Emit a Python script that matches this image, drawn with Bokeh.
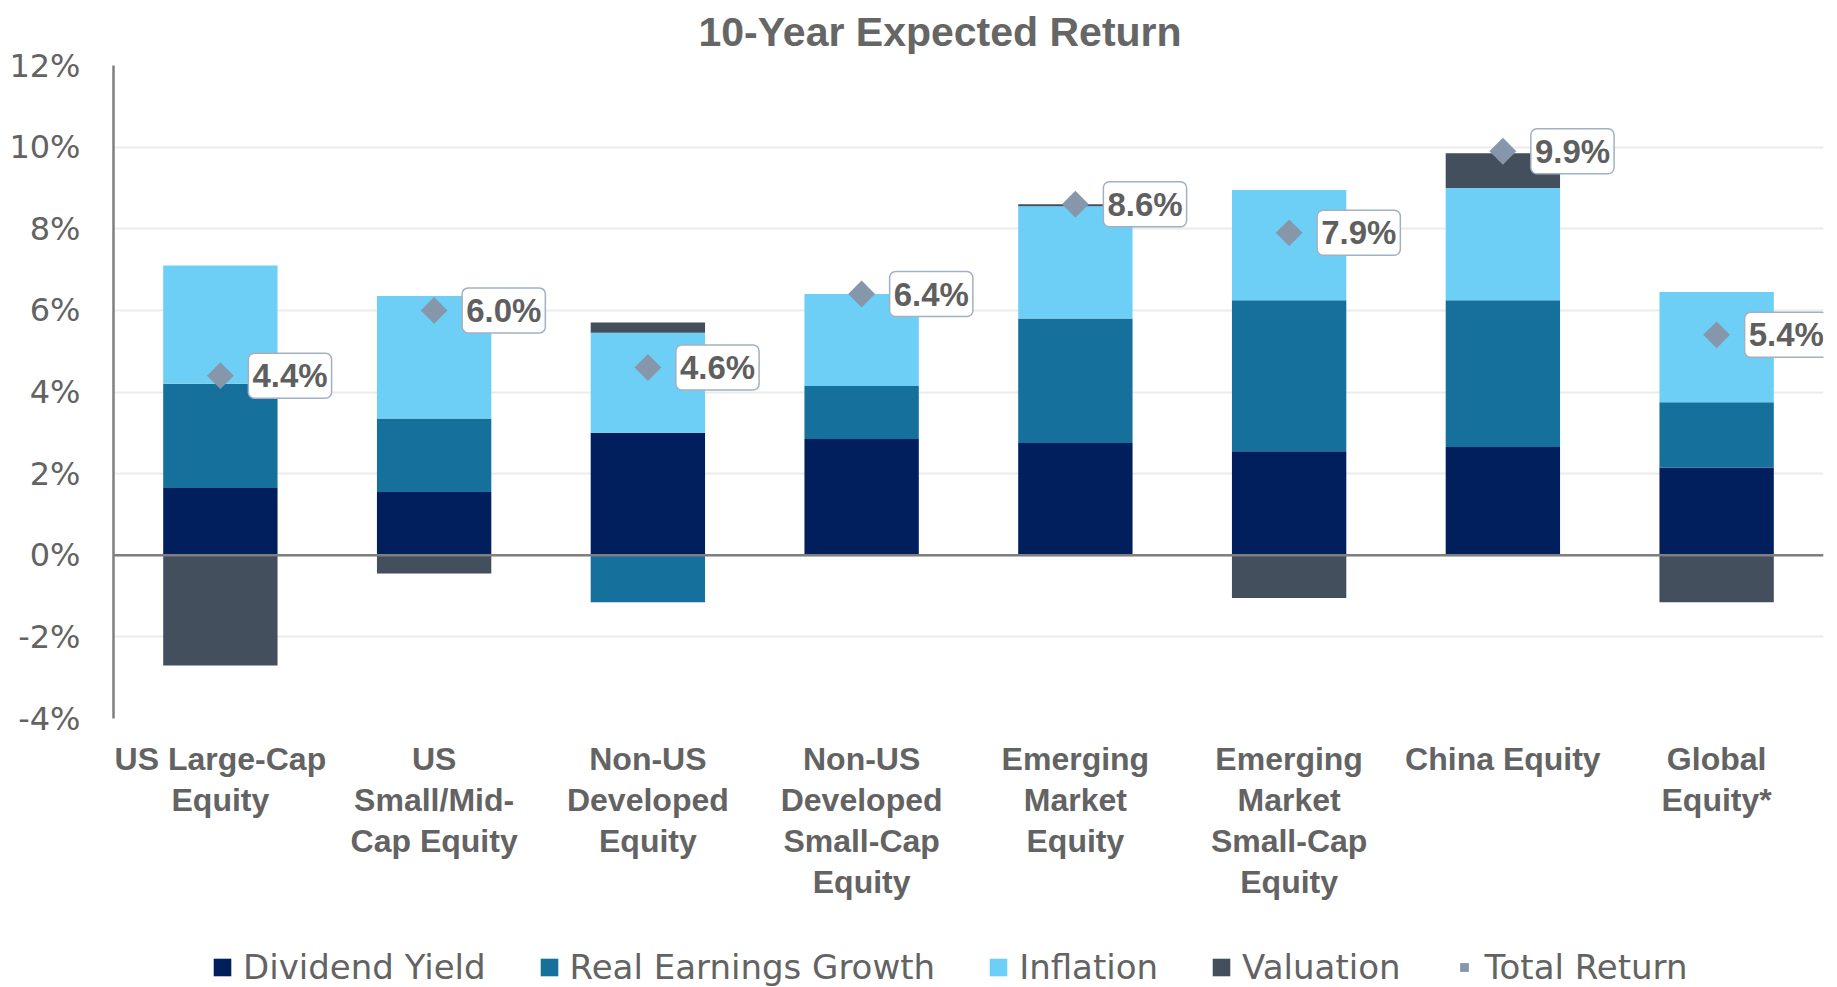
import numpy as np
from bokeh.plotting import figure
from bokeh.layouts import column
from bokeh.models import (ColumnDataSource, Label, Legend, LegendItem, Span,
                          FactorRange, Range1d, FixedTicker)
from bokeh.embed import file_html
from bokeh.resources import INLINE

# ---- data ----
categories = ["US Large-Cap\nEquity", "US\nSmall/Mid-\nCap Equity", "Non-US\nDeveloped\nEquity",
              "Non-US\nDeveloped\nSmall-Cap\nEquity", "Emerging\nMarket\nEquity",
              "Emerging\nMarket\nSmall-Cap\nEquity", "China Equity", "Global\nEquity*"]
dividend_yield = [1.65, 1.55, 3.0, 2.85, 2.75, 2.55, 2.65, 2.15]
real_earnings_growth = [2.55, 1.8, -1.15, 1.3, 3.05, 3.7, 3.6, 1.6]
inflation = [2.9, 3.0, 2.45, 2.25, 2.75, 2.7, 2.75, 2.7]
valuation = [-2.7, -0.45, 0.25, 0.0, 0.05, -1.05, 0.85, -1.15]
total_return = [4.4, 6.0, 4.6, 6.4, 8.6, 7.9, 9.9, 5.4]
series_names = ["Dividend Yield", "Real Earnings Growth", "Inflation", "Valuation"]
series_colors = ["#001F5C", "#15709C", "#6DCFF6", "#434F5C"]
total_name = "Total Return"
total_color = "#8797AB"
y_ticks = [-4, -2, 0, 2, 4, 6, 8, 10, 12]

TEXT = "#636363"
FONT = "Liberation Sans"
W = 1829

p = figure(x_range=FactorRange(*categories), y_range=Range1d(-4, 12),
           width=W, height=915, output_backend="svg", toolbar_location=None,
           min_border_left=113, min_border_right=6, min_border_top=64, min_border_bottom=197)

p.title.text = "10-Year Expected Return"
p.title.align = "left"
p.title.offset = 585
p.title.vertical_align = "top"
p.title.text_font = FONT
p.title.text_font_style = "bold"
p.title.text_font_size = "41px"
p.title.text_color = "#666666"
p.title.standoff = 17

# stacked bars with positives up and negatives down
pos = np.zeros(len(categories))
neg = np.zeros(len(categories))
renderers = []
for name, vals, col in zip(series_names,
                           [dividend_yield, real_earnings_growth, inflation, valuation],
                           series_colors):
    arr = np.array(vals, dtype=float)
    bottom = np.where(arr >= 0, pos, neg)
    top = bottom + arr
    pos = np.where(arr >= 0, top, pos)
    neg = np.where(arr < 0, top, neg)
    src = ColumnDataSource(dict(x=categories, bottom=bottom, top=top))
    r = p.vbar(x="x", bottom="bottom", top="top", width=0.535, source=src,
               fill_color=col, line_color=None)
    renderers.append(r)

p.add_layout(Span(location=0, dimension="width", line_color="#7F7F7F", line_width=2.5))

tsrc = ColumnDataSource(dict(x=categories, y=total_return))
r_tot = p.scatter(x="x", y="y", source=tsrc, marker="square", angle=np.pi / 4, size=19,
                  fill_color=total_color, line_color=None)

# value labels (categorical synthetic coordinate: factor i sits at i + 0.5)
for i, v in enumerate(total_return):
    p.add_layout(Label(x=i + 0.5, y=v, text="{:.1f}%".format(v), x_offset=28, y_offset=0,
                       text_align="left", text_baseline="middle", text_font=FONT,
                       text_font_style="bold", text_font_size="33px", text_color="#5F5F5F",
                       background_fill_color="white", border_line_color="#A3B0C2",
                       border_line_width=1.5, border_radius=6, padding=4))

# axes
p.yaxis.ticker = FixedTicker(ticks=y_ticks)
p.yaxis.major_label_overrides = {t: "{}%".format(t) for t in y_ticks}
p.yaxis.axis_line_color = "#7F7F7F"
p.yaxis.axis_line_width = 2.5
p.yaxis.major_tick_line_color = None
p.yaxis.major_tick_out = 0
p.yaxis.major_tick_in = 0
p.yaxis.minor_tick_line_color = None
p.yaxis.major_label_text_font = "DejaVu Sans"
p.yaxis.major_label_text_font_size = "32px"
p.yaxis.major_label_text_color = TEXT
p.yaxis.major_label_standoff = 33

p.xaxis.axis_line_color = None
p.xaxis.major_tick_line_color = None
p.xaxis.major_tick_out = 0
p.xaxis.major_tick_in = 0
p.xaxis.minor_tick_line_color = None
p.xaxis.major_label_text_font = FONT
p.xaxis.major_label_text_font_style = "bold"
p.xaxis.major_label_text_font_size = "32px"
p.xaxis.major_label_text_line_height = 1.14
p.xaxis.major_label_text_color = TEXT
p.xaxis.major_label_standoff = 22

p.xgrid.grid_line_color = None
p.ygrid.grid_line_color = "#EBEBEB"
p.ygrid.grid_line_width = 2
p.outline_line_color = None

# legend strip beneath the chart (its own small canvas so it is not clipped).
# Its swatch renderers hold one point placed outside the strip's visible range.
pl = figure(width=W, height=72, output_backend="svg", toolbar_location=None,
            x_range=Range1d(0, 1), y_range=Range1d(0, 1), x_axis_type=None, y_axis_type=None,
            min_border=0, outline_line_color=None)
pl.xgrid.visible = False
pl.ygrid.visible = False
leg_renderers = []
for col in series_colors:
    leg_renderers.append(pl.vbar(x="x", top="top", bottom="bottom", width=0.1,
                                 source=ColumnDataSource(dict(x=[-5], top=[-5], bottom=[-6])),
                                 fill_color=col, line_color=None))
leg_renderers.append(pl.scatter(x="x", y="y", source=ColumnDataSource(dict(x=[-5], y=[-5])),
                                marker="square", angle=np.pi / 4, size=19,
                                fill_color=total_color, line_color=None))
legend = Legend(items=[LegendItem(label=n, renderers=[r], index=0)
                       for n, r in zip(series_names + [total_name], leg_renderers)],
                orientation="horizontal", location=(98, 0),
                glyph_width=22, glyph_height=22, label_standoff=10, spacing=52,
                padding=0, margin=0, border_line_color=None, background_fill_alpha=0,
                label_text_font="DejaVu Sans", label_text_font_size="34px",
                label_text_color=TEXT)
pl.add_layout(legend)

open("out.html", "w").write(file_html(column(p, pl, spacing=0), INLINE))
